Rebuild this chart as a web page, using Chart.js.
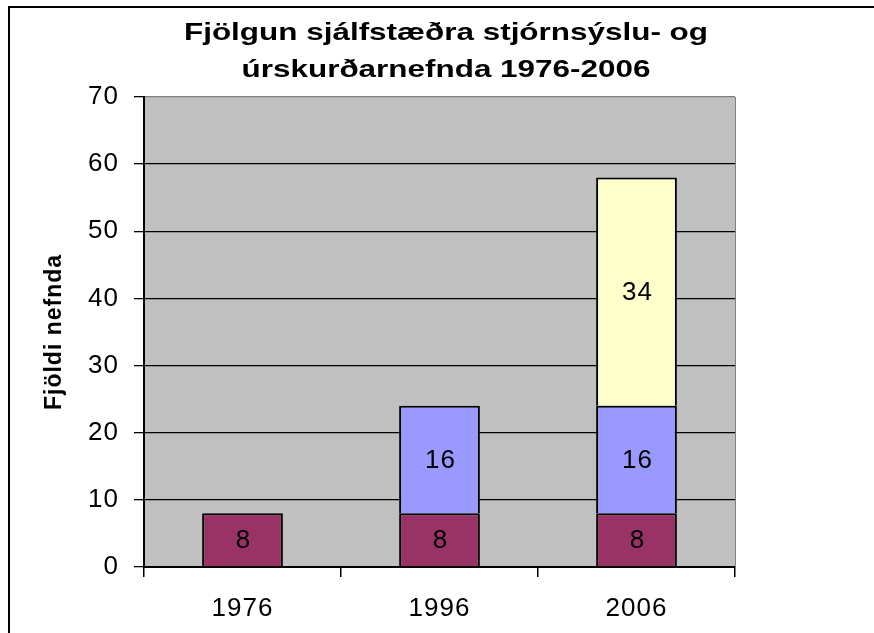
<!DOCTYPE html>
<html>
<head>
<meta charset="utf-8">
<title>Fjölgun sjálfstæðra stjórnsýslu- og úrskurðarnefnda 1976-2006</title>
<script src="https://cdn.jsdelivr.net/npm/chart.js@4.4.1/dist/chart.umd.min.js"></script>
<style>
  html, body { margin: 0; padding: 0; background: #fff; }
  canvas { display: block; }
</style>
</head>
<body>
<canvas id="chart" width="874" height="633"></canvas>
<script>
// data
const years = ['1976', '1996', '2006'];
const firstGroup = [8, 8, 8];
const secondGroup = [null, 16, 16];
const thirdGroup = [null, null, 34];
const yMin = 0;
const yMax = 70;
const yStep = 10;
const chartTitle = ['Fjölgun sjálfstæðra stjórnsýslu- og', 'úrskurðarnefnda 1976-2006'];
const yTitle = 'Fjöldi nefnda';

const FONT = "'Liberation Sans', Arial, sans-serif";

// white page, grey plot area and the outer frame
const backdrop = {
    id: 'backdrop',
    beforeDraw(chart) {
        const { ctx, chartArea } = chart;
        ctx.fillStyle = '#fff';
        ctx.fillRect(0, 0, chart.width, chart.height);
        ctx.fillStyle = '#C0C0C0';
        ctx.fillRect(chartArea.left, chartArea.top, chartArea.right - chartArea.left, chartArea.bottom - chartArea.top);
        ctx.strokeStyle = '#000';
        ctx.lineWidth = 2;
        ctx.strokeRect(9, 7, 1000, 1000);
        // Excel draws its text a little wide
        ctx.letterSpacing = '1px';
    }
};

// the two line title, stretched sideways like the original export
const wideTitle = {
    id: 'wideTitle',
    afterDraw(chart) {
        const { ctx } = chart;
        ctx.save();
        ctx.font = 'bold 24px ' + FONT;
        ctx.letterSpacing = '0px';
        ctx.fillStyle = '#000';
        ctx.textAlign = 'center';
        ctx.textBaseline = 'alphabetic';
        chartTitle.forEach((line, i) => {
            ctx.save();
            ctx.translate(446, 40 + i * 37.3);
            ctx.scale(1.31, 1);
            ctx.fillText(line, 0, 0);
            ctx.restore();
        });
        ctx.restore();
    }
};

// value in the middle of every stacked segment
const segmentLabels = {
    id: 'segmentLabels',
    afterDatasetsDraw(chart) {
        const { ctx } = chart;
        ctx.save();
        ctx.font = '26px ' + FONT;
        ctx.fillStyle = '#000';
        ctx.textAlign = 'center';
        ctx.textBaseline = 'middle';
        chart.data.datasets.forEach((ds, di) => {
            const meta = chart.getDatasetMeta(di);
            meta.data.forEach((bar, i) => {
                const v = ds.data[i];
                if (v === null || v === undefined) return;
                ctx.fillText(String(v), bar.x + 1, (bar.y + bar.base) / 2 + 1);
            });
        });
        ctx.restore();
    }
};

const ctx = document.getElementById('chart');

new Chart(ctx, {
    type: 'bar',
    data: {
        labels: years,
        datasets: [
            { label: 'a', data: firstGroup, backgroundColor: '#993366', borderColor: '#000', borderWidth: 2 },
            { label: 'b', data: secondGroup, backgroundColor: '#9999FF', borderColor: '#000', borderWidth: 2 },
            { label: 'c', data: thirdGroup, backgroundColor: '#FFFFCC', borderColor: '#000', borderWidth: 2 }
        ]
    },
    options: {
        responsive: false,
        animation: false,
        events: [],
        layout: { padding: { top: 97, left: 0, right: 0, bottom: 0 } },
        datasets: {
            bar: { categoryPercentage: 1, barPercentage: 0.41 }
        },
        plugins: {
            legend: { display: false },
            tooltip: { enabled: false },
            title: { display: false }
        },
        scales: {
            x: {
                stacked: true,
                grid: {
                    offset: true,
                    drawOnChartArea: false,
                    tickLength: 10,
                    color: '#000',
                    lineWidth: 1.5
                },
                border: { color: '#000', width: 2 },
                ticks: { color: '#000', padding: 16, font: { family: FONT, size: 26 } },
                afterFit(scale) { scale.height = 66; }
            },
            y: {
                stacked: true,
                min: yMin,
                max: yMax,
                grid: {
                    color: (c) => (c.tick && c.tick.value === yMax ? '#808080' : '#000'),
                    tickColor: '#000',
                    tickLength: 10,
                    lineWidth: 1.3
                },
                border: { color: '#000', width: 2 },
                ticks: { stepSize: yStep, color: '#000', padding: 15, font: { family: FONT, size: 26 } },
                title: {
                    display: true,
                    text: yTitle,
                    color: '#000',
                    padding: { top: 41, bottom: 0 },
                    font: { family: FONT, size: 23, weight: 'bold' }
                },
                afterFit(scale) { scale.width = 144; }
            },
            yRight: {
                position: 'right',
                min: yMin,
                max: yMax,
                grid: { drawOnChartArea: false, drawTicks: false },
                border: { color: '#808080', width: 1 },
                ticks: { display: false },
                afterFit(scale) { scale.width = 139; }
            }
        }
    },
    plugins: [backdrop, wideTitle, segmentLabels]
});
</script>
</body>
</html>
